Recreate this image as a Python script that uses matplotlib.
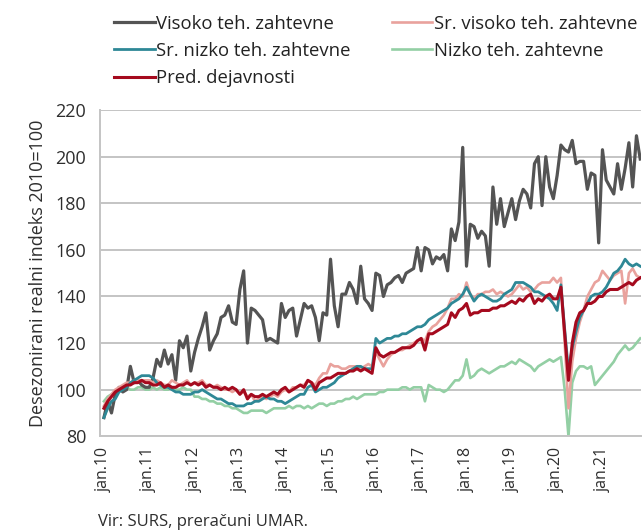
import matplotlib.pyplot as plt
import numpy as np

# Mesečni podatki, jan.2010 - nov.2021 (desezonirani realni indeks 2010=100)
visoko = [
    88, 95, 90, 98, 101, 99, 100, 110, 103, 104, 102, 101,
    101, 105, 113, 110, 117, 111, 115, 104, 121, 118, 123, 108,
    116, 122, 127, 133, 117, 121, 124, 131, 132, 136, 129, 128,
    143, 151, 120, 135, 134, 132, 130, 121, 122, 121, 120, 137,
    131, 134, 135, 123, 130, 137, 135, 136, 131, 121, 133, 132,
    156, 136, 127, 141, 141, 146, 143, 137, 153, 139, 137, 134,
    150, 149, 140, 145, 146, 148, 149, 146, 150, 151, 152, 161,
    151, 161, 160, 154, 157, 156, 158, 151, 169, 164, 172, 204,
    153, 171, 170, 165, 168, 166, 153, 187, 171, 182, 170, 176,
    182, 173, 181, 186, 184, 178, 197, 200, 179, 200, 187, 182,
    192, 205, 203, 202, 207, 197, 198, 198, 186, 193, 192, 163,
    203, 190, 187, 184, 197, 186, 195, 206, 187, 209, 199,
]
sr_visoko = [
    93, 96, 98, 100, 101, 102, 103, 103, 104, 104, 104, 104,
    104, 103, 104, 103, 102, 102, 104, 103, 102, 103, 104, 102,
    103, 103, 104, 102, 102, 101, 102, 101, 100, 100, 99, 100,
    98, 99, 97, 98, 95, 96, 97, 96, 97, 98, 97, 99,
    100, 99, 101, 101, 102, 102, 104, 103, 102, 105, 107, 107,
    111, 110, 110, 109, 109, 110, 110, 110, 109, 110, 111, 110,
    116, 113, 110, 113, 115, 116, 117, 117, 118, 119, 120, 121,
    122, 121, 125, 127, 128, 130, 132, 135, 139, 139, 141, 140,
    146, 141, 139, 141, 141, 142, 142, 143, 141, 142, 141, 140,
    141, 143, 145, 143, 144, 142, 143, 145, 146, 146, 146, 148,
    146, 148, 120, 92, 112, 122, 129, 134, 140, 143, 146, 147,
    151, 149, 147, 149, 150, 151, 137, 150, 152, 149, 148,
]
sr_nizko = [
    88, 92, 95, 96, 99, 100, 101, 103, 104, 105, 106, 106,
    106, 105, 103, 102, 101, 101, 100, 99, 99, 98, 98, 98,
    99, 99, 100, 99, 98, 97, 96, 96, 95, 94, 94, 93,
    93, 93, 94, 94, 95, 95, 96, 97, 96, 96, 95, 95,
    94, 95, 96, 97, 98, 98, 101, 102, 99, 100, 101, 101,
    102, 103, 105, 106, 107, 108, 109, 110, 110, 109, 109, 109,
    122, 120, 121, 122, 122, 123, 123, 124, 124, 125, 126, 127,
    127, 128, 130, 131, 132, 133, 134, 135, 137, 138, 139, 141,
    144, 141, 138, 140, 141, 140, 139, 138, 138, 139, 141, 142,
    143, 146, 146, 146, 145, 144, 142, 142, 141, 140, 139, 137,
    134, 145, 126, 108, 118, 125, 131, 134, 137, 140, 141, 141,
    142, 144, 147, 150, 151, 153, 156, 154, 153, 154, 153,
]
nizko = [
    95, 97, 98, 99, 100, 100, 101, 100, 100, 101, 101, 100,
    100, 101, 100, 101, 100, 100, 101, 100, 100, 101, 100, 100,
    97, 97, 96, 96, 95, 95, 94, 94, 93, 93, 92, 92,
    91, 90, 90, 91, 91, 91, 91, 90, 91, 92, 92, 92,
    92, 93, 92, 93, 93, 92, 93, 92, 93, 94, 94, 93,
    94, 94, 95, 95, 96, 96, 97, 96, 97, 98, 98, 98,
    98, 99, 99, 100, 100, 100, 100, 101, 101, 100, 101, 101,
    101, 95, 102, 101, 100, 100, 99, 100, 102, 104, 104, 106,
    113, 105, 106, 108, 109, 108, 107, 108, 109, 110, 110, 111,
    112, 111, 113, 112, 111, 110, 108, 110, 111, 112, 113, 112,
    113, 114, 100, 80, 103, 108, 110, 110, 109, 110, 102, 104,
    106, 108, 110, 112, 115, 117, 119, 117, 118, 120, 122,
]
pred = [
    92, 95, 97, 99, 100, 101, 102, 102, 103, 103, 104, 103,
    103, 102, 102, 103, 101, 102, 101, 101, 102, 102, 103, 102,
    103, 102, 103, 101, 102, 101, 101, 100, 101, 100, 101, 100,
    98, 100, 96, 98, 97, 97, 98, 97, 98, 99, 98, 100,
    101, 99, 100, 101, 102, 101, 104, 103, 100, 103, 104, 105,
    105, 106, 107, 107, 107, 108, 108, 109, 108, 109, 108, 107,
    118, 115, 114, 115, 116, 116, 117, 118, 118, 118, 119, 121,
    122, 117, 124, 124, 125, 126, 127, 128, 133, 131, 134, 135,
    137, 132, 133, 133, 134, 134, 134, 135, 135, 136, 136, 137,
    138, 137, 139, 138, 140, 141, 137, 139, 138, 140, 141, 139,
    139, 144, 124, 104, 120, 129, 133, 134, 137, 137, 138, 140,
    140, 142, 143, 143, 143, 144, 145, 146, 145, 147, 148,
]
leta = ["10", "11", "12", "13", "14", "15", "16", "17", "18", "19", "20", "21"]

mesec = np.arange(len(pred))

plt.rcParams["font.family"] = ["Open Sans", "DejaVu Sans"]

fig = plt.figure(figsize=(6.42, 5.32), dpi=100)
ax = fig.add_axes([0.156, 0.180, 0.843, 0.613])

l_vis, = ax.plot(mesec, visoko, color="#545454", lw=2.3, zorder=3, label="Visoko teh. zahtevne")
l_svis, = ax.plot(mesec, sr_visoko, color="#e9a29d", lw=1.9, zorder=4, label="Sr. visoko teh. zahtevne")
l_sniz, = ax.plot(mesec, sr_nizko, color="#2e8896", lw=2.0, zorder=5, label="Sr. nizko teh. zahtevne")
l_niz, = ax.plot(mesec, nizko, color="#93cfa4", lw=1.9, zorder=2, label="Nizko teh. zahtevne")
l_pred, = ax.plot(mesec, pred, color="#a50a1e", lw=2.2, zorder=6, label="Pred. dejavnosti")

ax.set_ylim(80, 220)
ax.set_yticks(range(80, 221, 20))
ax.set_xlim(-1, len(pred) - 0.7)
ax.set_xticks(range(0, len(pred), 12))
ax.set_xticklabels(["jan." + l for l in leta], rotation=90)

ax.grid(axis="y", color="#c4c4c4", lw=1.4)
ax.set_axisbelow(True)
for s in ["top", "right"]:
    ax.spines[s].set_visible(False)
for s in ["left", "bottom"]:
    ax.spines[s].set_color("#c4c4c4")
    ax.spines[s].set_linewidth(1.4)
ax.tick_params(axis="y", length=0, labelsize=13, labelcolor="#2e2e2e", pad=10)
ax.tick_params(axis="x", length=0, labelsize=11.5, labelcolor="#2e2e2e", pad=8)
ax.set_ylabel("Desezonirani realni indeks 2010=100", fontsize=13, color="#2e2e2e", labelpad=6)

fig.legend(handles=[l_vis, l_sniz, l_pred, l_svis, l_niz], ncol=2, frameon=False,
           loc="upper left", bbox_to_anchor=(0.163, 0.99), fontsize=13.3,
           borderpad=0, handlelength=2.2, handletextpad=0.1, columnspacing=2.2,
           labelspacing=0.5, labelcolor="#222222")

fig.text(0.153, 0.012, "Vir: SURS, preračuni UMAR.", fontsize=12, color="#2e2e2e")

fig.savefig("out.png", dpi=100)
